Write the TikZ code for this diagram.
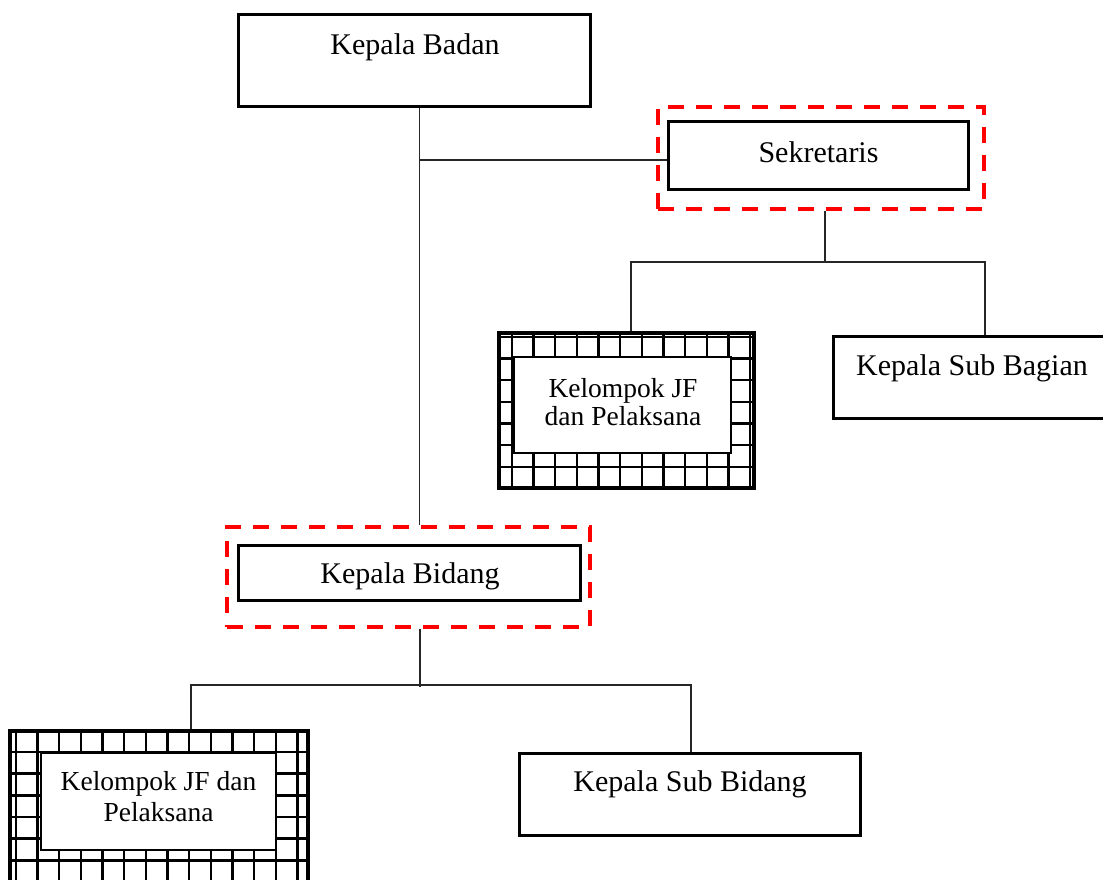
\documentclass[tikz,border=0pt]{standalone}
\usepackage{fontspec}
\setmainfont{Liberation Serif}
\usetikzlibrary{calc}
\begin{document}
\begin{tikzpicture}[x=1pt,y=-1pt,
  box/.style={draw=black,line width=3pt,fill=white,rectangle,inner sep=0pt},
  innerbox/.style={draw=black,line width=1.8pt,fill=white,rectangle,inner sep=0pt},
  gridbox/.style={draw=black,line width=3.2pt,rectangle,inner sep=0pt},
  frame/.style={draw=red,line width=3.8pt,dash pattern=on 16pt off 12pt,rectangle,inner sep=0pt},
  conn/.style={draw=black!85,line width=1.4pt},
  gridline/.style={draw=black,line width=2.4pt},
  txt/.style={anchor=base,inner sep=0pt,font=\fontsize{30}{36}\selectfont},
  smalltxt/.style={anchor=base,inner sep=0pt,font=\fontsize{27.5}{32}\selectfont}
]
\useasboundingbox (0,0) rectangle (1103,880);
\clip (0,0) rectangle (1103,880);
\fill[white] (0,0) rectangle (1103,880);

% ---------- boxes ----------
\node[box,minimum width=352pt,minimum height=92pt] (badan) at (414,61) {};
\node[frame,minimum width=326pt,minimum height=102pt] (sekframe) at (821,158) {};
\node[box,minimum width=300pt,minimum height=67pt] (sek) at (818,155.5) {};
\node[box,minimum width=282pt,minimum height=82pt] (subbag) at (974,377) {};
\node[frame,minimum width=363pt,minimum height=100pt] (bidframe) at (408.5,577) {};
\node[box,minimum width=342pt,minimum height=55pt] (bidang) at (409,572.5) {};
\node[box,minimum width=341pt,minimum height=82pt] (subbid) at (689.5,794) {};

% grid-filled group boxes
\node[gridbox,minimum width=255pt,minimum height=155pt] (jfa) at (626.5,410.5) {};
\begin{scope}
  \clip (499,333) rectangle (754,488);
  \foreach \i in {0,...,12} \draw[gridline] ({511.7+21.67*(\i-1)},330) -- ++(0,162);
  \foreach \j in {0,...,7} \draw[gridline] (495,{336.7+21.67*\j}) -- ++(264,0);
\end{scope}
\draw[gridbox] (499,333) rectangle (754,488);
\node[innerbox,minimum width=217pt,minimum height=96pt] (jfainner) at (622.5,405) {};

\node[gridbox,minimum width=298pt,minimum height=164pt] (jfb) at (159,813) {};
\begin{scope}
  \clip (10,731) rectangle (308,895);
  \foreach \i in {0,...,14} \draw[gridline] ({15.7+21.67*\i},725) -- ++(0,175);
  \foreach \j in {0,...,7} \draw[gridline] (5,{730.3+21.67*\j}) -- ++(310,0);
\end{scope}
\draw[gridbox] (10,731) rectangle (308,895);
\node[innerbox,minimum width=235pt,minimum height=97pt] (jfbinner) at (158.5,801.5) {};

% ---------- texts ----------
\node[txt] (tbadan) at (415,55) {Kepala Badan};
\node[txt] (tsek) at (818.5,162.5) {Sekretaris};
\node[txt] (tsubbag) at (972,375) {Kepala Sub Bagian};
\node[txt] (tbidang) at (410,583.3) {Kepala Bidang};
\node[txt] (tsubbid) at (690,791.5) {Kepala Sub Bidang};
\node[smalltxt] (tjfa1) at (623,397) {Kelompok JF};
\node[smalltxt] (tjfa2) at (623,425) {dan Pelaksana};
\node[smalltxt] (tjfb1) at (158.5,790.5) {Kelompok JF dan};
\node[smalltxt] (tjfb2) at (158.5,821.5) {Pelaksana};

% ---------- connectors ----------
\coordinate (trunk) at (419.5,160);
\draw[conn] (badan.south -| trunk) -- (bidframe.north -| trunk);
\draw[conn] (trunk) -- (trunk -| sek.west);

\coordinate (sekjoint) at (825,262);
\coordinate (sekleft) at (631,262);
\coordinate (sekright) at (985,262);
\draw[conn] (sekframe.south -| sekjoint) -- (sekjoint);
\draw[conn] (jfa.north -| sekleft) -- (sekleft) -- (sekright) -- (sekright |- subbag.north);

\coordinate (bidjoint) at (420,685);
\coordinate (bidleft) at (191,685);
\coordinate (bidright) at (691,685);
\draw[conn] (bidframe.south -| bidjoint) -- ($(bidjoint)+(0,2)$);
\draw[conn] (jfb.north -| bidleft) -- (bidleft) -- (bidright) -- (bidright |- subbid.north);
\end{tikzpicture}
\end{document}
